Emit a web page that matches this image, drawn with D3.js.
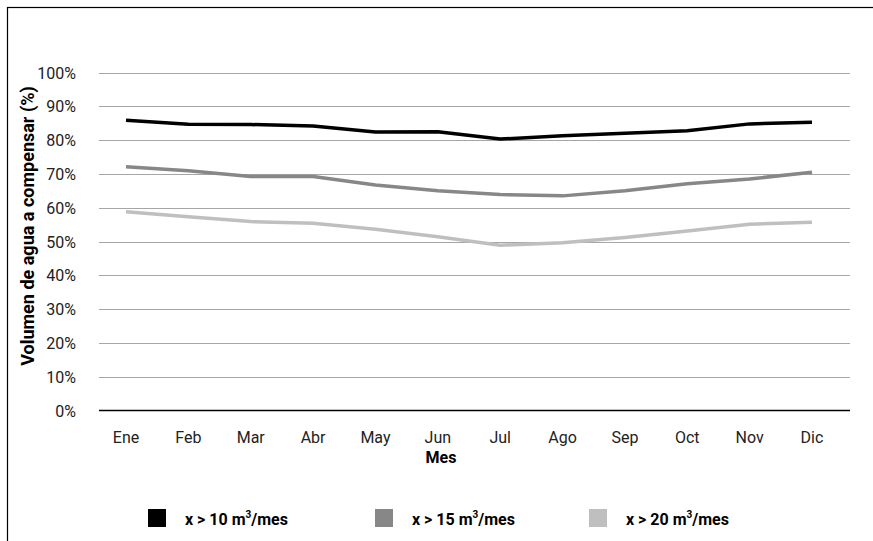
<!DOCTYPE html>
<html>
<head>
<meta charset="utf-8">
<script src="https://cdn.jsdelivr.net/npm/d3@7"></script>
<style>
  html, body { margin: 0; padding: 0; background: #fff; }
  svg { display: block; }
  text { font-family: "Liberation Sans Narrow", "Arial Narrow", "Roboto", sans-serif; }
</style>
</head>
<body>
<svg id="chart" width="873" height="541"></svg>
<script>
// Monthly share of water volume to compensate, by consumption threshold
const months = ["Ene", "Feb", "Mar", "Abr", "May", "Jun", "Jul", "Ago", "Sep", "Oct", "Nov", "Dic"];
const over10 = [85.9, 84.7, 84.6, 84.2, 82.4, 82.5, 80.3, 81.3, 82.0, 82.8, 84.8, 85.3];
const over15 = [72.1, 70.9, 69.2, 69.2, 66.7, 65.0, 63.9, 63.5, 65.0, 67.1, 68.5, 70.5];
const over20 = [58.8, 57.3, 55.9, 55.4, 53.6, 51.4, 48.9, 49.6, 51.2, 53.1, 55.1, 55.7];
const yTicks = [0, 10, 20, 30, 40, 50, 60, 70, 80, 90, 100];
const seriesNames = ["x > 10 m", "x > 15 m", "x > 20 m"];
const seriesColors = ["#000000", "#878787", "#bfbfbf"];

const series = [over10, over15, over20].map((values, i) => ({
  name: seriesNames[i], color: seriesColors[i], values
}));

const svg = d3.select("#chart");

// outer frame
svg.append("rect")
  .attr("x", 7.5).attr("y", 7.5)
  .attr("width", 900).attr("height", 600)
  .attr("fill", "none").attr("stroke", "#000").attr("stroke-width", 1.2);

const gridLeft = 99, gridRight = 850;
const x = d3.scalePoint().domain(months).range([126, 812]);
const y = d3.scaleLinear().domain([0, 100]).range([410.5, 72.5]);

// horizontal gridlines
svg.append("g")
  .selectAll("line")
  .data(yTicks.filter(d => d > 0))
  .join("line")
  .attr("x1", gridLeft).attr("x2", gridRight)
  .attr("y1", d => Math.round(y(d)) + 0.5).attr("y2", d => Math.round(y(d)) + 0.5)
  .attr("stroke", "#a6a6a6").attr("stroke-width", 1);

// baseline
svg.append("line")
  .attr("x1", gridLeft).attr("x2", gridRight)
  .attr("y1", y(0)).attr("y2", y(0))
  .attr("stroke", "#000").attr("stroke-width", 1.5);

// y tick labels
svg.append("g")
  .selectAll("text")
  .data(yTicks)
  .join("text")
  .attr("x", 76).attr("y", d => y(d) + 6)
  .attr("text-anchor", "end")
  .attr("font-size", 16)
  .attr("fill", "#222")
  .text(d => d + "%");

// x tick labels
svg.append("g")
  .selectAll("text")
  .data(months)
  .join("text")
  .attr("x", d => x(d)).attr("y", 443)
  .attr("text-anchor", "middle")
  .attr("font-size", 16)
  .attr("fill", "#222")
  .text(d => d);

// axis titles
svg.append("text")
  .attr("x", 441).attr("y", 463)
  .attr("text-anchor", "middle")
  .attr("font-size", 16).attr("font-weight", "bold")
  .text("Mes");

svg.append("text")
  .attr("transform", "translate(34,226) rotate(-90)")
  .attr("text-anchor", "middle")
  .attr("font-size", 18).attr("font-weight", "bold")
  .text("Volumen de agua a compensar (%)");

// series lines
const line = d3.line()
  .x((d, i) => x(months[i]))
  .y(d => y(d));

svg.append("g")
  .selectAll("path")
  .data(series)
  .join("path")
  .attr("d", d => line(d.values))
  .attr("fill", "none")
  .attr("stroke", d => d.color)
  .attr("stroke-width", 3.5)
  .attr("stroke-linejoin", "round");

// legend
const legendX = [148, 375, 589];
const legend = svg.append("g")
  .selectAll("g")
  .data(series)
  .join("g")
  .attr("transform", (d, i) => `translate(${legendX[i]},509)`);

legend.append("rect")
  .attr("width", 18).attr("height", 18)
  .attr("fill", d => d.color);

const lt = legend.append("text")
  .attr("x", 37).attr("y", 16)
  .attr("font-size", 16).attr("font-weight", "bold");
lt.append("tspan").text(d => d.name);
lt.append("tspan").attr("font-size", 10).attr("dy", -7).text("3");
lt.append("tspan").attr("dy", 7).text("/mes");
</script>
</body>
</html>
